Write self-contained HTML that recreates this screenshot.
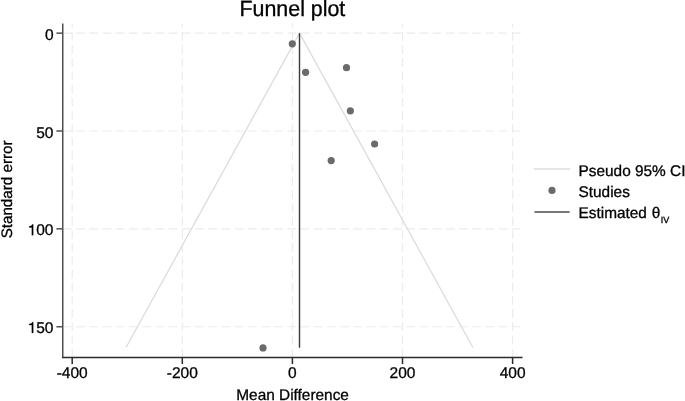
<!DOCTYPE html>
<html><head><meta charset="utf-8"><style>
html,body{margin:0;padding:0;background:#fff;width:685px;height:401px;overflow:hidden}
svg{display:block;will-change:transform}
text{font-family:"Liberation Sans",sans-serif;fill:#000;stroke:#000;stroke-width:0.3px;text-rendering:geometricPrecision}
</style></head><body>
<svg width="685" height="401" viewBox="0 0 685 401">
<rect width="685" height="401" fill="#fff"/>
<!-- title -->
<text transform="translate(292.4,16.3) scale(1,1.03)" font-size="21.4" text-anchor="middle">Funnel plot</text>
<!-- gridlines -->
<g stroke="#ececec" stroke-width="1.2" fill="none">
<line x1="63" y1="33.15" x2="522" y2="33.15" stroke-dasharray="8.8 4.4"/>
<line x1="63" y1="131" x2="522" y2="131" stroke-dasharray="8.8 4.4"/>
<line x1="63" y1="228.85" x2="522" y2="228.85" stroke-dasharray="8.8 4.4"/>
<line x1="63" y1="326.75" x2="522" y2="326.75" stroke-dasharray="8.8 4.4"/>
<line x1="72.2" y1="357.5" x2="72.2" y2="23.5" stroke-dasharray="8.8 4.4"/>
<line x1="182.3" y1="357.5" x2="182.3" y2="23.5" stroke-dasharray="8.8 4.4"/>
<line x1="292.4" y1="357.5" x2="292.4" y2="23.5" stroke-dasharray="8.8 4.4"/>
<line x1="402.5" y1="357.5" x2="402.5" y2="23.5" stroke-dasharray="8.8 4.4"/>
<line x1="512.6" y1="357.5" x2="512.6" y2="23.5" stroke-dasharray="8.8 4.4"/>
</g>
<!-- funnel CI -->
<polyline points="126,347.5 299.5,33.15 472.9,347.5" fill="none" stroke="#dcdcdc" stroke-width="1.3"/>
<!-- estimate line -->
<line x1="299.5" y1="33.15" x2="299.5" y2="347.7" stroke="#3a3a3a" stroke-width="1.4"/>
<!-- points -->
<g fill="#6b6b6b">
<circle cx="292.3" cy="43.8" r="3.6"/>
<circle cx="305.6" cy="72.3" r="3.6"/>
<circle cx="346.5" cy="67.7" r="3.6"/>
<circle cx="350.35" cy="110.85" r="3.6"/>
<circle cx="374.6" cy="144" r="3.6"/>
<circle cx="331.2" cy="160.6" r="3.6"/>
<circle cx="263" cy="347.9" r="3.6"/>
</g>
<!-- axes -->
<g stroke="#505050" stroke-width="1.5" fill="none">
<line x1="62.75" y1="23.5" x2="62.75" y2="357"/>
<line x1="56.4" y1="33.15" x2="62" y2="33.15"/>
<line x1="56.4" y1="131" x2="62" y2="131"/>
<line x1="56.4" y1="228.85" x2="62" y2="228.85"/>
<line x1="56.4" y1="326.75" x2="62" y2="326.75"/>
</g>
<g stroke="#2b2b2b" stroke-width="1.5" fill="none">
<line x1="62" y1="357.5" x2="522.5" y2="357.5"/>
<line x1="72.2" y1="358" x2="72.2" y2="364"/>
<line x1="182.3" y1="358" x2="182.3" y2="364"/>
<line x1="292.4" y1="358" x2="292.4" y2="364"/>
<line x1="402.5" y1="358" x2="402.5" y2="364"/>
<line x1="512.6" y1="358" x2="512.6" y2="364"/>
</g>
<!-- y tick labels -->
<g font-size="15.5" text-anchor="end">
<text x="53.5" y="39.7">0</text>
<text x="53.5" y="137.5">50</text>
<text x="53.5" y="235.2">00</text>
<text x="53.5" y="332.9">50</text>
</g>
<g fill="#000" stroke="#000" stroke-width="19">
<path d="M359 0L359 690L292 690C274 630 238 582 101 570L101 504L271 504L271 0Z" transform="translate(27.64,235.2) scale(0.0155,-0.0155)"/>
<path d="M359 0L359 690L292 690C274 630 238 582 101 570L101 504L271 504L271 0Z" transform="translate(27.64,332.9) scale(0.0155,-0.0155)"/>
</g>
<!-- x tick labels -->
<g font-size="15.5" text-anchor="middle">
<text x="72.2" y="378.3">-400</text>
<text x="182.3" y="378.3">-200</text>
<text x="292.4" y="378.3">0</text>
<text x="402.5" y="378.3">200</text>
<text x="512.6" y="378.3">400</text>
</g>
<!-- axis titles -->
<text x="292.6" y="399.7" font-size="15.4" text-anchor="middle">Mean Difference</text>
<text transform="translate(12.2,189.4) rotate(-90)" font-size="15.2" text-anchor="middle">Standard error</text>
<!-- legend -->
<line x1="534" y1="169" x2="570" y2="169" stroke="#dcdcdc" stroke-width="1.3"/>
<circle cx="552" cy="190.4" r="3.6" fill="#6b6b6b"/>
<line x1="534.5" y1="212" x2="569.6" y2="212" stroke="#484848" stroke-width="1.4"/>
<g font-size="15.4">
<text x="578.5" y="175.7">Pseudo 95% CI</text>
<text x="578.5" y="196.5">Studies</text>
<text x="578.5" y="217.9">Estimated <tspan dx="0.5">θ</tspan><tspan font-size="9" dx="0.4" dy="4.7">IV</tspan></text>
</g>
</svg>
</body></html>
